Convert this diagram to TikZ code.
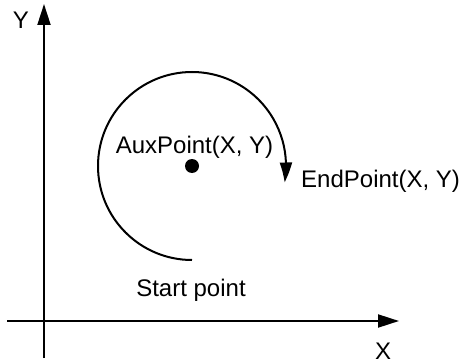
\documentclass[tikz,border=0pt]{standalone}
\usepackage{fontspec}
\setmainfont{Liberation Sans}
\usetikzlibrary{arrows.meta,bending}
\begin{document}
\begin{tikzpicture}[x=1pt,y=1pt,
  lbl/.style={inner sep=0pt,font=\fontsize{24}{28}\selectfont},
  axis/.style={line width=2pt,-{Triangle[length=21pt,width=13pt]}},
  arcline/.style={line width=2pt,-{Triangle[length=20pt,width=12pt,bend]}}]
\useasboundingbox (0,0) rectangle (460,362);
\coordinate (yb) at (44,4);
\coordinate (yt) at (44,358);
\coordinate (xl) at (7,41);
\coordinate (xr) at (399,41);
\coordinate (c) at (192,196);
\coordinate (s) at (192,102);
\draw[axis] (yb) -- (yt);
\draw[axis] (xl) -- (xr);
\draw[arcline] (s) arc[start angle=270,end angle=-10,radius=94];
\fill (c) circle[radius=7];
\node[lbl,anchor=base] (aux) at (194.5,209) {AuxPoint(X, Y)};
\node[lbl,anchor=base west] (endp) at (301,175) {EndPoint(X, Y)};
\node[lbl,anchor=base] (start) at (191,66) {Start point};
\node[lbl,anchor=base] (xlab) at (383,3) {X};
\node[lbl] (ylab) at (21,342) {Y};
\end{tikzpicture}
\end{document}
